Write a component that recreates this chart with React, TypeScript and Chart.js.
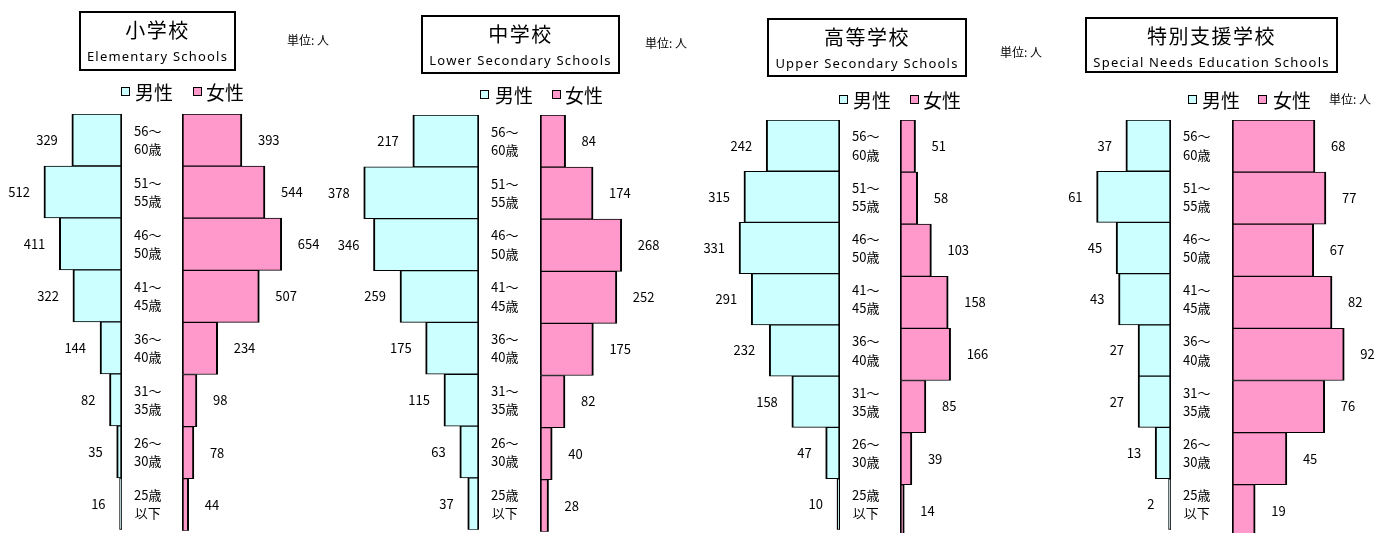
import React, { useEffect, useRef } from "react";
import { Chart, registerables } from "chart.js";

Chart.register(...registerables);

// ---------- data ----------
const ageGroups: string[][] = [
  ["56～", "60歳"],
  ["51～", "55歳"],
  ["46～", "50歳"],
  ["41～", "45歳"],
  ["36～", "40歳"],
  ["31～", "35歳"],
  ["26～", "30歳"],
  ["25歳", "以下"],
];

const elementaryMale = [329, 512, 411, 322, 144, 82, 35, 16];
const elementaryFemale = [393, 544, 654, 507, 234, 98, 78, 44];
const lowerSecondaryMale = [217, 378, 346, 259, 175, 115, 63, 37];
const lowerSecondaryFemale = [84, 174, 268, 252, 175, 82, 40, 28];
const upperSecondaryMale = [242, 315, 331, 291, 232, 158, 47, 10];
const upperSecondaryFemale = [51, 58, 103, 158, 166, 85, 39, 14];
const specialNeedsMale = [37, 61, 45, 43, 27, 27, 13, 2];
const specialNeedsFemale = [68, 77, 67, 82, 92, 76, 45, 19];

const panelTitles = ["小学校", "中学校", "高等学校", "特別支援学校"];
const panelSubtitles = [
  "Elementary Schools",
  "Lower Secondary Schools",
  "Upper Secondary Schools",
  "Special Needs Education Schools",
];
const axisMax = [800, 400, 400, 100];
const legendLabels = ["男性", "女性"];
const unitLabel = "単位: 人";

// ---------- styling / layout ----------
const MALE_COLOR = "#CCFFFF";
const FEMALE_COLOR = "#FF99CC";
const AXIS_W = 122;
const ROW_H = 52.1;
const CANVAS_H = 560;
const PAD_L = 50;
const PAD_R = 60;
const JP = '"Noto Sans CJK JP", "Noto Sans", sans-serif';

type Layout = {
  maleRight: number;
  femaleLeft: number;
  top: number;
  box: { x: number; y: number; w: number; h: number };
  unit: { x: number; y: number };
  legend: { x1: number; t1: number; x2: number; t2: number; y: number };
};

const layouts: Layout[] = [
  {
    maleRight: 122, femaleLeft: 182, top: 114,
    box: { x: 79, y: 11, w: 157, h: 60 },
    unit: { x: 287, y: 40 },
    legend: { x1: 121, t1: 135, x2: 193, t2: 206, y: 92 },
  },
  {
    maleRight: 479, femaleLeft: 540, top: 115,
    box: { x: 421, y: 15, w: 199, h: 59 },
    unit: { x: 645, y: 43 },
    legend: { x1: 480, t1: 495, x2: 552, t2: 565, y: 95 },
  },
  {
    maleRight: 840, femaleLeft: 900, top: 120,
    box: { x: 767, y: 18, w: 200, h: 59 },
    unit: { x: 1000, y: 52 },
    legend: { x1: 839, t1: 853, x2: 910, t2: 923, y: 100 },
  },
  {
    maleRight: 1171, femaleLeft: 1232, top: 120,
    box: { x: 1085, y: 17, w: 253, h: 56 },
    unit: { x: 1329, y: 99 },
    legend: { x1: 1188, t1: 1202, x2: 1258, t2: 1273, y: 100 },
  },
];

const valueLabels = {
  id: "valueLabels",
  afterDatasetsDraw(chart: any) {
    const ctx = chart.ctx;
    const meta = chart.getDatasetMeta(0);
    const data = chart.data.datasets[0].data as number[];
    const isMale = !!chart.options.scales.x.reverse;
    ctx.save();
    ctx.font = `13px ${JP}`;
    ctx.fillStyle = "#000";
    ctx.textBaseline = "middle";
    meta.data.forEach((bar: any, i: number) => {
      const v = data[i];
      if (isMale) {
        ctx.textAlign = "right";
        ctx.fillText(String(v), bar.x - 14, bar.y);
      } else {
        ctx.textAlign = "left";
        ctx.fillText(String(v), bar.x + 16, bar.y);
      }
    });
    ctx.restore();
  },
};

function SideChart(props: {
  values: number[];
  male: boolean;
  max: number;
  layout: Layout;
}) {
  const ref = useRef<HTMLCanvasElement | null>(null);
  const { values, male, max, layout } = props;
  const gap = layout.femaleLeft - layout.maleRight;
  const width = male ? PAD_L + AXIS_W + gap : AXIS_W + PAD_R;
  const left = male ? layout.maleRight - AXIS_W - PAD_L : layout.femaleLeft;
  const padTop = layout.top;
  const padBottom = CANVAS_H - (layout.top + ROW_H * ageGroups.length);

  useEffect(() => {
    if (!ref.current) return;
    const chart = new Chart(ref.current, {
      type: "bar",
      data: {
        labels: ageGroups as any,
        datasets: [
          {
            data: values,
            backgroundColor: male ? MALE_COLOR : FEMALE_COLOR,
            borderColor: "#000",
            borderWidth: { top: 1, bottom: 1, left: 2, right: 2 } as any,
            borderSkipped: false,
            barPercentage: 1,
            categoryPercentage: 1,
          },
        ],
      },
      options: {
        indexAxis: "y",
        responsive: false,
        animation: false,
        layout: {
          padding: {
            left: male ? PAD_L : 0,
            right: male ? 0 : PAD_R,
            top: padTop,
            bottom: padBottom,
          },
        },
        plugins: {
          legend: { display: false },
          tooltip: { enabled: false },
        },
        scales: {
          x: { display: false, min: 0, max, reverse: male },
          y: male
            ? {
                position: "right",
                grid: { display: false, drawTicks: false },
                border: { display: false },
                ticks: {
                  autoSkip: false,
                  crossAlign: "center",
                  padding: 12,
                  color: "#000",
                  font: { family: JP, size: 13, lineHeight: 1.4 },
                },
                afterFit: (s: any) => {
                  s.width = gap;
                },
              }
            : { display: false },
        },
      } as any,
      plugins: [valueLabels],
    });
    return () => chart.destroy();
  }, []);

  return (
    <canvas
      ref={ref}
      width={width}
      height={CANVAS_H}
      style={{ position: "absolute", left, top: 0, width, height: CANVAS_H }}
    />
  );
}

function Panel(props: {
  idx: number;
  male: number[];
  female: number[];
}) {
  const { idx, male, female } = props;
  const L = layouts[idx];
  const sq = (x: number, color: string) => (
    <div
      style={{
        position: "absolute",
        left: x,
        top: L.legend.y - 5,
        width: 7,
        height: 7,
        border: "1.5px solid #000",
        background: color,
      }}
    />
  );
  const txt = (x: number, s: string) => (
    <div
      style={{
        position: "absolute",
        left: x,
        top: L.legend.y - 14,
        height: 28,
        lineHeight: "28px",
        fontSize: 19,
        fontFamily: JP,
        color: "#000",
        whiteSpace: "nowrap",
      }}
    >
      {s}
    </div>
  );
  return (
    <>
      <SideChart values={male} male={true} max={axisMax[idx]} layout={L} />
      <SideChart values={female} male={false} max={axisMax[idx]} layout={L} />
      <div
        style={{
          position: "absolute",
          left: L.box.x,
          top: L.box.y,
          width: L.box.w,
          height: L.box.h,
          boxSizing: "border-box",
          border: "2px solid #000",
          background: "#fff",
        }}
      >
        <div
          style={{
            position: "absolute",
            left: 0,
            right: 0,
            top: 4,
            height: 26,
            lineHeight: "26px",
            textAlign: "center",
            fontSize: 20,
            letterSpacing: 1.5,
            fontFamily: JP,
            color: "#000",
          }}
        >
          {panelTitles[idx]}
        </div>
        <div
          style={{
            position: "absolute",
            left: -10,
            right: -10,
            top: 30,
            height: 26,
            lineHeight: "26px",
            textAlign: "center",
            fontSize: 13,
            letterSpacing: 1.2,
            fontFamily: '"Noto Sans", sans-serif',
            color: "#000",
            whiteSpace: "nowrap",
          }}
        >
          {panelSubtitles[idx]}
        </div>
      </div>
      <div
        style={{
          position: "absolute",
          left: L.unit.x,
          top: L.unit.y - 9,
          height: 18,
          lineHeight: "18px",
          fontSize: 12,
          fontFamily: JP,
          color: "#000",
          whiteSpace: "nowrap",
        }}
      >
        {unitLabel}
      </div>
      {sq(L.legend.x1, MALE_COLOR)}
      {txt(L.legend.t1, legendLabels[0])}
      {sq(L.legend.x2, FEMALE_COLOR)}
      {txt(L.legend.t2, legendLabels[1])}
    </>
  );
}

export default function App() {
  return (
    <div
      style={{
        position: "fixed",
        left: 0,
        top: 0,
        width: 1378,
        height: 533,
        overflow: "hidden",
        background: "#fff",
      }}
    >
      <Panel idx={0} male={elementaryMale} female={elementaryFemale} />
      <Panel idx={1} male={lowerSecondaryMale} female={lowerSecondaryFemale} />
      <Panel idx={2} male={upperSecondaryMale} female={upperSecondaryFemale} />
      <Panel idx={3} male={specialNeedsMale} female={specialNeedsFemale} />
    </div>
  );
}
